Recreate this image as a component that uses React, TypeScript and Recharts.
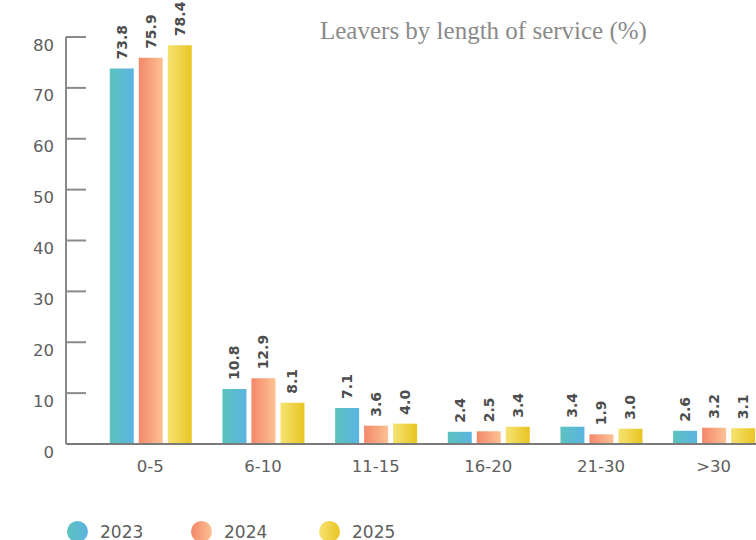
import { Bar, BarChart, LabelList, XAxis, YAxis } from 'recharts';

const categories = ['0-5', '6-10', '11-15', '16-20', '21-30', '>30'];
const leavers2023 = [73.8, 10.8, 7.1, 2.4, 3.4, 2.6];
const leavers2024 = [75.9, 12.9, 3.6, 2.5, 1.9, 3.2];
const leavers2025 = [78.4, 8.1, 4.0, 3.4, 3.0, 3.1];
const yTicks = [0, 10, 20, 30, 40, 50, 60, 70, 80];

const data = categories.map((band, i) => ({
  band,
  y2023: leavers2023[i],
  y2024: leavers2024[i],
  y2025: leavers2025[i],
}));

const series = [
  { key: 'y2023', name: '2023', grad: 'g2023', from: '#5cc3bd', to: '#5bb3e2' },
  { key: 'y2024', name: '2024', grad: 'g2024', from: '#f4876a', to: '#fcc293' },
  { key: 'y2025', name: '2025', grad: 'g2025', from: '#f6e272', to: '#e8c522' },
];

const FONT = '"DejaVu Sans", sans-serif';

const YTick = (props: any) => {
  const { x, y, payload } = props;
  return (
    <g>
      {payload.value !== 0 && <line x1={x} x2={x + 20} y1={y} y2={y} stroke="#8a8a8a" strokeWidth={2} />}
      <text x={x - 12} y={y + 8} textAnchor="end" dominantBaseline="central" fontSize={16.5} fill="#5e5e5e" fontFamily={FONT}>
        {payload.value}
      </text>
    </g>
  );
};

const ValueLabel = (props: any) => {
  const { x, y, width, value } = props;
  const cx = x + width / 2;
  const ty = y - 9;
  return (
    <text
      x={cx}
      y={ty}
      transform={`rotate(-90 ${cx} ${ty})`}
      textAnchor="start"
      dominantBaseline="central"
      fontSize={14}
      fontWeight="bold"
      fill="#4d4d4d"
      fontFamily={FONT}
    >
      {Number(value).toFixed(1)}
    </text>
  );
};

export default function App() {
  return (
    <div style={{ position: 'fixed', left: 0, top: 0, width: 756, height: 540, overflow: 'hidden', background: '#fff' }}>
      <div
        style={{
          position: 'absolute',
          left: 320,
          top: 17,
          fontFamily: '"Liberation Serif", serif',
          fontSize: 25,
          color: '#8a8a8a',
          whiteSpace: 'nowrap',
        }}
      >
        Leavers by length of service (%)
      </div>
      <BarChart
        width={770}
        height={540}
        data={data}
        margin={{ top: 37, right: 0, bottom: 66, left: 0 }}
        barCategoryGap="14%"
        barGap={5}
        style={{ position: 'absolute', left: 0, top: 0 }}
      >
        <defs>
          {series.map((s) => (
            <linearGradient key={s.grad} id={s.grad} x1="0" y1="0" x2="1" y2="0">
              <stop offset="0%" stopColor={s.from} />
              <stop offset="100%" stopColor={s.to} />
            </linearGradient>
          ))}
        </defs>
        <XAxis
          dataKey="band"
          height={30}
          padding={{ left: 28, right: 0 }}
          axisLine={{ stroke: '#7a7a7a', strokeWidth: 2 }}
          tickLine={false}
          tick={{ fontSize: 16.5, fill: '#5e5e5e', fontFamily: FONT, dy: 8 }}
        />
        <YAxis
          width={66}
          domain={[0, 80]}
          ticks={yTicks}
          axisLine={{ stroke: '#8a8a8a', strokeWidth: 2 }}
          tickLine={false}
          tickSize={0}
          tickMargin={0}
          tick={<YTick />}
        />
        {series.map((s) => (
          <Bar key={s.key} dataKey={s.key} name={s.name} fill={`url(#${s.grad})`} isAnimationActive={false}>
            <LabelList dataKey={s.key} content={<ValueLabel />} />
          </Bar>
        ))}
      </BarChart>
      {series.map((s, i) => (
        <div
          key={s.name}
          style={{
            position: 'absolute',
            left: [67, 191, 319][i],
            top: 521,
            display: 'flex',
            alignItems: 'center',
            fontFamily: FONT,
            fontSize: 17,
            color: '#5e5e5e',
          }}
        >
          <span
            style={{
              width: 21,
              height: 21,
              borderRadius: '50%',
              background: `linear-gradient(to right, ${s.from}, ${s.to})`,
              display: 'inline-block',
              marginRight: 12,
            }}
          />
          {s.name}
        </div>
      ))}
    </div>
  );
}
